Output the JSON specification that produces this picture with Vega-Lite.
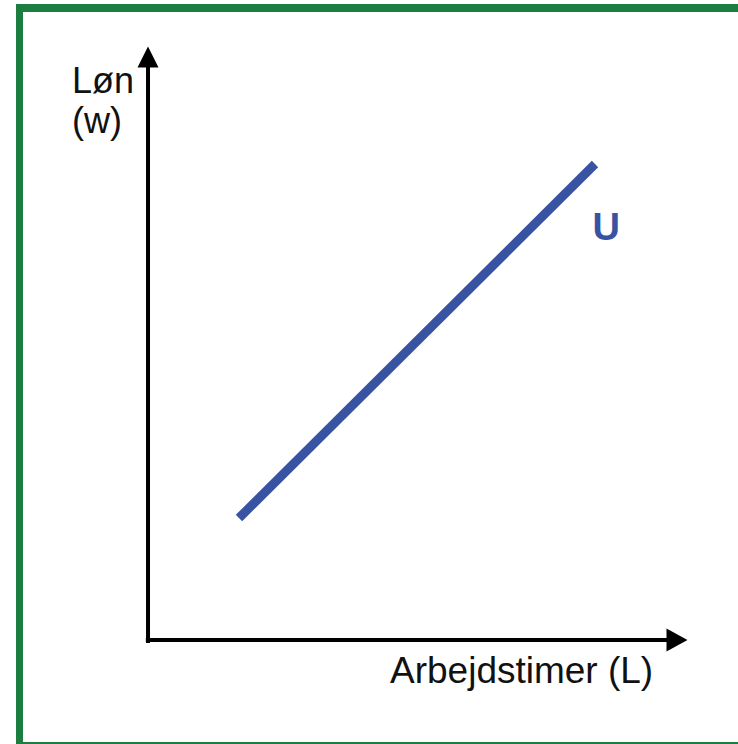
{
  "$schema": "https://vega.github.io/schema/vega-lite/v6.json",
  "width": 738,
  "height": 744,
  "autosize": {"type": "fit", "contains": "padding"},
  "padding": 0,
  "background": "white",
  "config": {"view": {"stroke": null}},
  "datasets": {
    "frame": [
      {"part": "top", "x": -2.449, "x2": 10.946, "y": 10.725, "y2": 10.59},
      {"part": "left", "x": -2.449, "x2": -2.319, "y": 10.725, "y2": -1.754},
      {"part": "bottom", "x": -2.449, "x2": 10.946, "y": -1.72, "y2": -1.754}
    ],
    "axes": [
      {"axis": "w", "x": 0, "x2": 0, "y": -0.05, "y2": 9.7},
      {"axis": "L", "x": -0.04, "x2": 9.7, "y": 0, "y2": 0}
    ],
    "upArrow": [{"x": 0, "y": 9.831}],
    "rightArrow": [{"x": 9.814, "y": 0}],
    "curve": [
      {"x": 1.688, "y": 2.057},
      {"x": 8.293, "y": 8.027}
    ],
    "yLabels": [
      {"text": "Løn", "x": -1.41, "y": 9.224},
      {"text": "(w)", "x": -1.41, "y": 8.55}
    ],
    "xLabel": [{"text": "Arbejdstimer (L)", "x": 4.49, "y": -0.725}],
    "curveLabel": [{"text": "U", "x": 8.5, "y": 6.745}]
  },
  "layer": [
    {
      "data": {"name": "frame"},
      "mark": {"type": "rect", "color": "#1b7d3f"},
      "encoding": {
        "x": {"field": "x", "type": "quantitative", "axis": null, "scale": {"domain": [-2.746, 10.946], "nice": false, "zero": false}},
        "x2": {"field": "x2"},
        "y": {"field": "y", "type": "quantitative", "axis": null, "scale": {"domain": [-1.754, 10.793], "nice": false, "zero": false}},
        "y2": {"field": "y2"}
      }
    },
    {
      "data": {"name": "axes"},
      "mark": {"type": "rule", "color": "#000000", "strokeWidth": 4},
      "encoding": {
        "x": {"field": "x", "type": "quantitative", "axis": null, "scale": {"domain": [-2.746, 10.946], "nice": false, "zero": false}},
        "x2": {"field": "x2"},
        "y": {"field": "y", "type": "quantitative", "axis": null, "scale": {"domain": [-1.754, 10.793], "nice": false, "zero": false}},
        "y2": {"field": "y2"}
      }
    },
    {
      "data": {"name": "upArrow"},
      "mark": {"type": "point", "shape": "M0,-1L-1,1L1,1Z", "filled": true, "color": "#000000", "opacity": 1, "size": 441},
      "encoding": {
        "x": {"field": "x", "type": "quantitative", "axis": null, "scale": {"domain": [-2.746, 10.946], "nice": false, "zero": false}},
        "y": {"field": "y", "type": "quantitative", "axis": null, "scale": {"domain": [-1.754, 10.793], "nice": false, "zero": false}}
      }
    },
    {
      "data": {"name": "rightArrow"},
      "mark": {"type": "point", "shape": "M1,0L-1,-1.1L-1,1.1Z", "filled": true, "color": "#000000", "opacity": 1, "size": 441},
      "encoding": {
        "x": {"field": "x", "type": "quantitative", "axis": null, "scale": {"domain": [-2.746, 10.946], "nice": false, "zero": false}},
        "y": {"field": "y", "type": "quantitative", "axis": null, "scale": {"domain": [-1.754, 10.793], "nice": false, "zero": false}}
      }
    },
    {
      "data": {"name": "curve"},
      "mark": {"type": "line", "color": "#3953a3", "strokeWidth": 9, "strokeCap": "butt"},
      "encoding": {
        "x": {"field": "x", "type": "quantitative", "axis": null, "scale": {"domain": [-2.746, 10.946], "nice": false, "zero": false}},
        "y": {"field": "y", "type": "quantitative", "axis": null, "scale": {"domain": [-1.754, 10.793], "nice": false, "zero": false}}
      }
    },
    {
      "data": {"name": "yLabels"},
      "mark": {"type": "text", "align": "left", "baseline": "alphabetic", "font": "Liberation Sans", "fontSize": 36, "color": "#111111"},
      "encoding": {
        "x": {"field": "x", "type": "quantitative", "axis": null, "scale": {"domain": [-2.746, 10.946], "nice": false, "zero": false}},
        "y": {"field": "y", "type": "quantitative", "axis": null, "scale": {"domain": [-1.754, 10.793], "nice": false, "zero": false}},
        "text": {"field": "text"}
      }
    },
    {
      "data": {"name": "xLabel"},
      "mark": {"type": "text", "align": "left", "baseline": "alphabetic", "font": "Liberation Sans", "fontSize": 37, "color": "#111111"},
      "encoding": {
        "x": {"field": "x", "type": "quantitative", "axis": null, "scale": {"domain": [-2.746, 10.946], "nice": false, "zero": false}},
        "y": {"field": "y", "type": "quantitative", "axis": null, "scale": {"domain": [-1.754, 10.793], "nice": false, "zero": false}},
        "text": {"field": "text"}
      }
    },
    {
      "data": {"name": "curveLabel"},
      "mark": {"type": "text", "align": "center", "baseline": "alphabetic", "font": "Liberation Sans", "fontSize": 38, "fontWeight": "bold", "color": "#3953a3"},
      "encoding": {
        "x": {"field": "x", "type": "quantitative", "axis": null, "scale": {"domain": [-2.746, 10.946], "nice": false, "zero": false}},
        "y": {"field": "y", "type": "quantitative", "axis": null, "scale": {"domain": [-1.754, 10.793], "nice": false, "zero": false}},
        "text": {"field": "text"}
      }
    }
  ]
}
